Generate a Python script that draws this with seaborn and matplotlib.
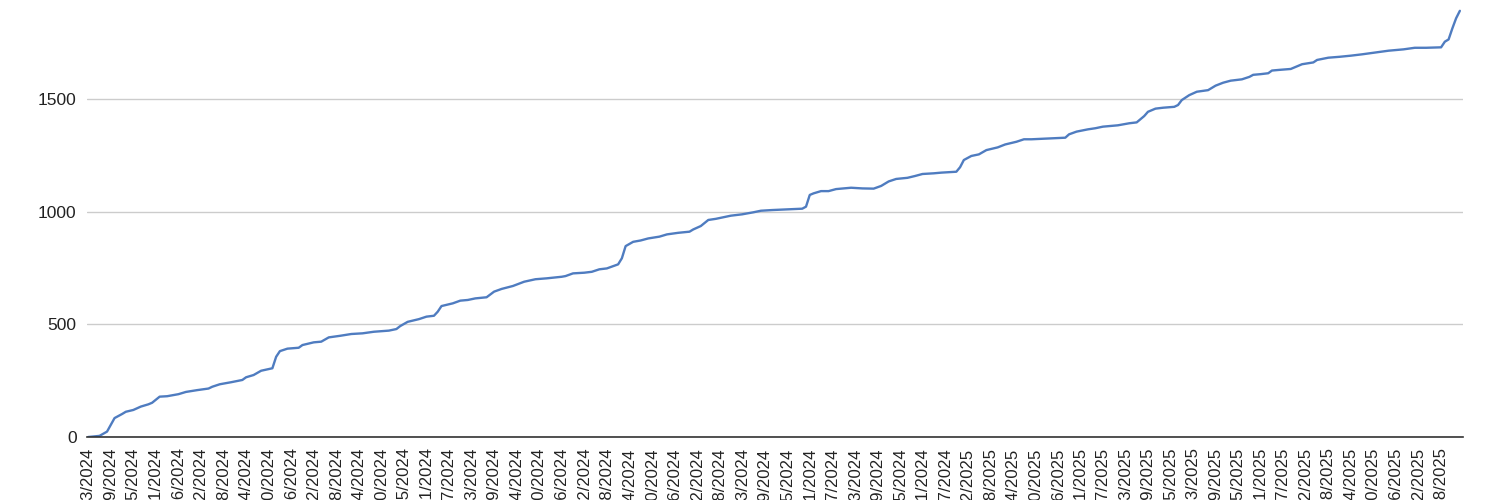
import matplotlib
matplotlib.use("Agg")
import matplotlib.pyplot as plt
import seaborn as sns
import pandas as pd

# cumulative total (day offset from start_date -> value)
start_date = "2024-05-13"
day_offsets = [
    0, 3, 5, 7, 9, 10, 12, 14, 16, 17, 19, 21, 24, 26, 29, 32, 33, 35, 38, 40,
    41, 42, 44, 46, 49, 50, 51, 53, 56, 57, 60, 62, 64, 67, 70, 73, 76, 80, 82, 83,
    85, 88, 90, 92, 93, 94, 97, 99, 101, 103, 106, 108, 110, 113, 116, 119, 122, 126, 127, 129,
    132, 134, 136, 138, 140, 141, 142, 143, 145, 147, 149, 152, 154, 157, 160, 161, 163, 165, 167, 169,
    171, 174, 177, 179, 182, 186, 190, 191, 192, 193, 195, 197, 199, 203, 206, 209, 211, 213, 215, 218,
    220, 222, 225, 227, 231, 232, 233, 235, 237, 239, 242, 244, 247, 249, 251, 256, 260, 261, 263, 266,
    268, 270, 274, 277, 279, 281, 282, 284, 286, 289, 290, 291, 293, 295, 298, 300, 302, 304, 307, 309,
    310, 312, 314, 315, 317, 320, 323, 326, 327, 330, 333, 336, 339, 343, 346, 350, 353, 356, 360, 361,
    362, 363, 364, 365,
]
totals = [
    0, 5, 24, 84, 102, 112, 120, 135, 145, 152, 179, 181, 190, 200, 208, 215, 223, 234, 243, 250,
    253, 265, 275, 294, 305, 356, 381, 392, 396, 408, 420, 423, 442, 449, 457, 460, 467, 472, 479, 492,
    511, 523, 534, 538, 556, 581, 593, 605, 608, 615, 620, 645, 657, 670, 689, 700, 704, 711, 714, 726,
    729, 733, 744, 748, 760, 766, 793, 847, 866, 872, 881, 889, 899, 906, 911, 921, 936, 963, 968, 975,
    982, 988, 997, 1004, 1007, 1010, 1013, 1022, 1074, 1081, 1091, 1091, 1100, 1106, 1103, 1102, 1114, 1134, 1145, 1150,
    1158, 1167, 1170, 1173, 1177, 1197, 1229, 1247, 1254, 1273, 1285, 1298, 1310, 1321, 1321, 1325, 1328, 1343, 1355, 1365,
    1370, 1377, 1383, 1392, 1396, 1424, 1443, 1457, 1461, 1465, 1473, 1495, 1517, 1532, 1539, 1559, 1572, 1581, 1587, 1598,
    1607, 1610, 1614, 1626, 1629, 1633, 1654, 1662, 1673, 1683, 1687, 1692, 1698, 1707, 1714, 1720, 1727, 1727, 1729, 1754,
    1764, 1813, 1858, 1891,
]

tick_labels = [
    "5/13/2024", "5/19/2024", "5/25/2024", "5/31/2024", "6/6/2024", "6/12/2024", "6/18/2024",
    "6/24/2024", "6/30/2024", "7/6/2024", "7/12/2024", "7/18/2024", "7/24/2024", "7/30/2024",
    "8/5/2024", "8/11/2024", "8/17/2024", "8/23/2024", "8/29/2024", "9/4/2024", "9/10/2024",
    "9/16/2024", "9/22/2024", "9/28/2024", "10/4/2024", "10/10/2024", "10/16/2024", "10/22/2024",
    "10/28/2024", "11/3/2024", "11/9/2024", "11/15/2024", "11/21/2024", "11/27/2024", "12/3/2024",
    "12/9/2024", "12/15/2024", "12/21/2024", "12/27/2024",
    "1/2/2025", "1/8/2025", "1/14/2025", "1/20/2025", "1/26/2025", "2/1/2025", "2/7/2025",
    "2/13/2025", "2/19/2025", "2/25/2025", "3/3/2025", "3/9/2025", "3/15/2025", "3/21/2025",
    "3/27/2025", "4/2/2025", "4/8/2025", "4/14/2025", "4/20/2025", "4/26/2025", "5/2/2025",
    "5/8/2025",
]
y_ticks = [0, 500, 1000, 1500]

df = pd.DataFrame({
    "date": pd.to_datetime(start_date) + pd.to_timedelta(day_offsets, unit="D"),
    "total": totals,
})
tick_dates = pd.to_datetime(tick_labels, format="%m/%d/%Y")

sns.set_style("white")
plt.rcParams["font.family"] = ["Liberation Sans", "DejaVu Sans"]

fig = plt.figure(figsize=(15, 5), dpi=100)
ax = fig.add_axes([0.058, 0.126, 0.917, 0.874])

sns.lineplot(data=df, x="date", y="total", ax=ax, color="#4f7cc0", linewidth=1.7)

start = pd.to_datetime(start_date)
ax.set_xlim(start - pd.Timedelta(hours=8), start + pd.Timedelta(days=365.7))
ax.set_ylim(0, 1939)

# date labels run past the bottom edge, as in the original export
ax.set_xticks(tick_dates)
ax.set_xticklabels(tick_labels, rotation=90, ha="center", va="top", fontsize=12, color="#222222")
ax.set_yticks(y_ticks)
ax.set_yticklabels([str(v) for v in y_ticks], fontsize=12.5, color="#222222")
ax.tick_params(axis="both", length=0)
ax.tick_params(axis="x", pad=7.5)
ax.tick_params(axis="y", pad=7.5)

ax.grid(axis="y", color="#cccccc", linewidth=1)
ax.grid(axis="x", visible=False)
for side in ["top", "right", "left"]:
    ax.spines[side].set_visible(False)
ax.spines["bottom"].set_color("#333333")
ax.spines["bottom"].set_linewidth(1.2)
ax.set_xlabel("")
ax.set_ylabel("")

fig.savefig("out.png", dpi=100)
plt.close(fig)
